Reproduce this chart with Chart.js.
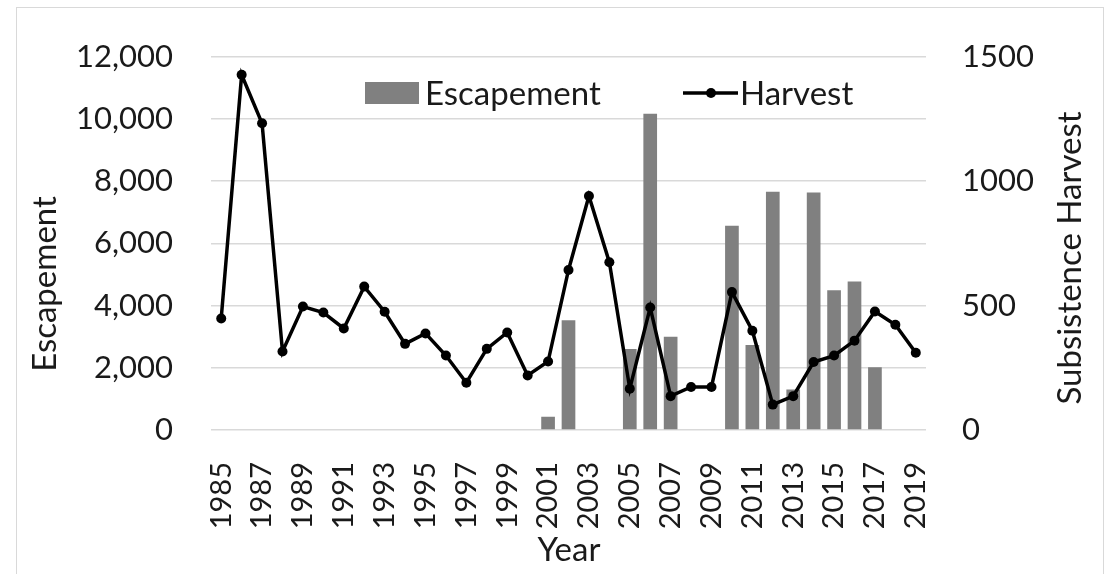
<!DOCTYPE html>
<html>
<head>
<meta charset="utf-8">
<script src="https://cdn.jsdelivr.net/npm/chart.js@4/dist/chart.umd.min.js"></script>
<style>
  html, body { margin: 0; padding: 0; background: #fff; }
  #wrap { position: relative; width: 1107px; height: 574px; overflow: hidden; }
  #frame { position: absolute; left: 16px; top: 7px; width: 1088px; height: 600px;
           border: 1.5px solid #d9d9d9; box-sizing: border-box; }
  #graph { position: absolute; left: 0; top: 0; }
</style>
</head>
<body>
<div id="wrap">
  <div id="frame"></div>
  <canvas id="graph" width="1107" height="574"></canvas>
</div>
<script>
var years = [];
for (var y = 1985; y <= 2019; y++) years.push(String(y));

var escapement = [null, null, null, null, null, null, null, null, null, null,
    null, null, null, null, null, null, 425, 3530, null, null,
    2600, 10160, 3000, null, null, 6560, 2730, 7660, 1300, 7630,
    4490, 4770, 2020, null, null];

var harvest = [448, 1427, 1232, 315, 496, 472, 408, 576, 475, 346,
    388, 299, 190, 326, 392, 219, 275, 643, 940, 674,
    166, 492, 136, 173, 173, 554, 399, 102, 136, 273,
    299, 359, 476, 423, 310];

var leftTicks = [0, 2000, 4000, 6000, 8000, 10000, 12000];
var rightTicks = [0, 500, 1000, 1500];

var FONT = 'Lato, "Open Sans", sans-serif';
var TXT = '#1a1a1a';

var titlesAndLegend = {
    id: 'titlesAndLegend',
    afterDraw: function(chart) {
        var c = chart.ctx;
        c.save();
        c.fillStyle = TXT;
        c.font = '33px ' + FONT;
        c.textAlign = 'center';
        c.textBaseline = 'middle';
        // axis titles
        c.save(); c.translate(45, 284); c.rotate(-Math.PI / 2);
        c.fillText('Escapement', 0, 0); c.restore();
        c.save(); c.translate(1070, 258); c.rotate(-Math.PI / 2);
        c.fillText('Subsistence Harvest', 0, 0); c.restore();
        c.fillText('Year', 569, 550);
        // legend
        c.textAlign = 'left';
        c.fillStyle = '#808080';
        c.fillRect(365, 82, 54, 22);
        c.fillStyle = TXT;
        c.fillText('Escapement', 425, 94);
        c.strokeStyle = '#000';
        c.lineWidth = 3.5;
        c.beginPath(); c.moveTo(683, 93); c.lineTo(738, 93); c.stroke();
        c.fillStyle = '#000';
        c.beginPath(); c.arc(711, 93, 5, 0, Math.PI * 2); c.fill();
        c.fillStyle = TXT;
        c.fillText('Harvest', 740, 94);
        c.restore();
    }
};

var ctx = document.getElementById('graph');
new Chart(ctx, {
    type: 'bar',
    data: {
        labels: years,
        datasets: [
            {
                type: 'line',
                label: 'Harvest',
                data: harvest,
                yAxisID: 'y1',
                borderColor: '#000',
                backgroundColor: '#000',
                borderWidth: 3.5,
                pointRadius: 5,
                pointBackgroundColor: '#000',
                pointBorderWidth: 0,
                tension: 0,
                order: 0
            },
            {
                type: 'bar',
                label: 'Escapement',
                data: escapement,
                yAxisID: 'y',
                backgroundColor: '#808080',
                barPercentage: 0.67,
                categoryPercentage: 1.0,
                order: 1
            }
        ]
    },
    options: {
        responsive: false,
        animation: false,
        events: [],
        layout: { padding: { top: 54, left: 0, right: 0, bottom: 0 } },
        plugins: {
            legend: { display: false },
            tooltip: { enabled: false }
        },
        scales: {
            x: {
                grid: { display: false },
                border: { display: false },
                afterFit: function(s) { s.height = 144; },
                ticks: {
                    autoSkip: false,
                    minRotation: 90,
                    maxRotation: 90,
                    padding: 24,
                    color: TXT,
                    font: { family: FONT, size: 29 },
                    callback: function(v, i) { return i % 2 === 0 ? years[i] : ''; }
                }
            },
            y: {
                position: 'left',
                min: 0,
                max: 12000,
                afterFit: function(s) { s.width = 211; },
                afterBuildTicks: function(s) { s.ticks = leftTicks.map(function(v) { return { value: v }; }); },
                border: { display: false },
                grid: { color: '#d9d9d9', lineWidth: 1.5, drawTicks: false },
                ticks: {
                    padding: 38,
                    color: TXT,
                    font: { family: FONT, size: 31 },
                    callback: function(v) { return v.toLocaleString('en-US'); }
                }
            },
            y1: {
                position: 'right',
                min: 0,
                max: 1500,
                afterFit: function(s) { s.width = 181; },
                afterBuildTicks: function(s) { s.ticks = rightTicks.map(function(v) { return { value: v }; }); },
                border: { display: false },
                grid: { display: false, drawTicks: false },
                ticks: {
                    padding: 36,
                    color: TXT,
                    font: { family: FONT, size: 31 },
                    callback: function(v) { return String(v); }
                }
            }
        }
    },
    plugins: [titlesAndLegend]
});
</script>
</body>
</html>
